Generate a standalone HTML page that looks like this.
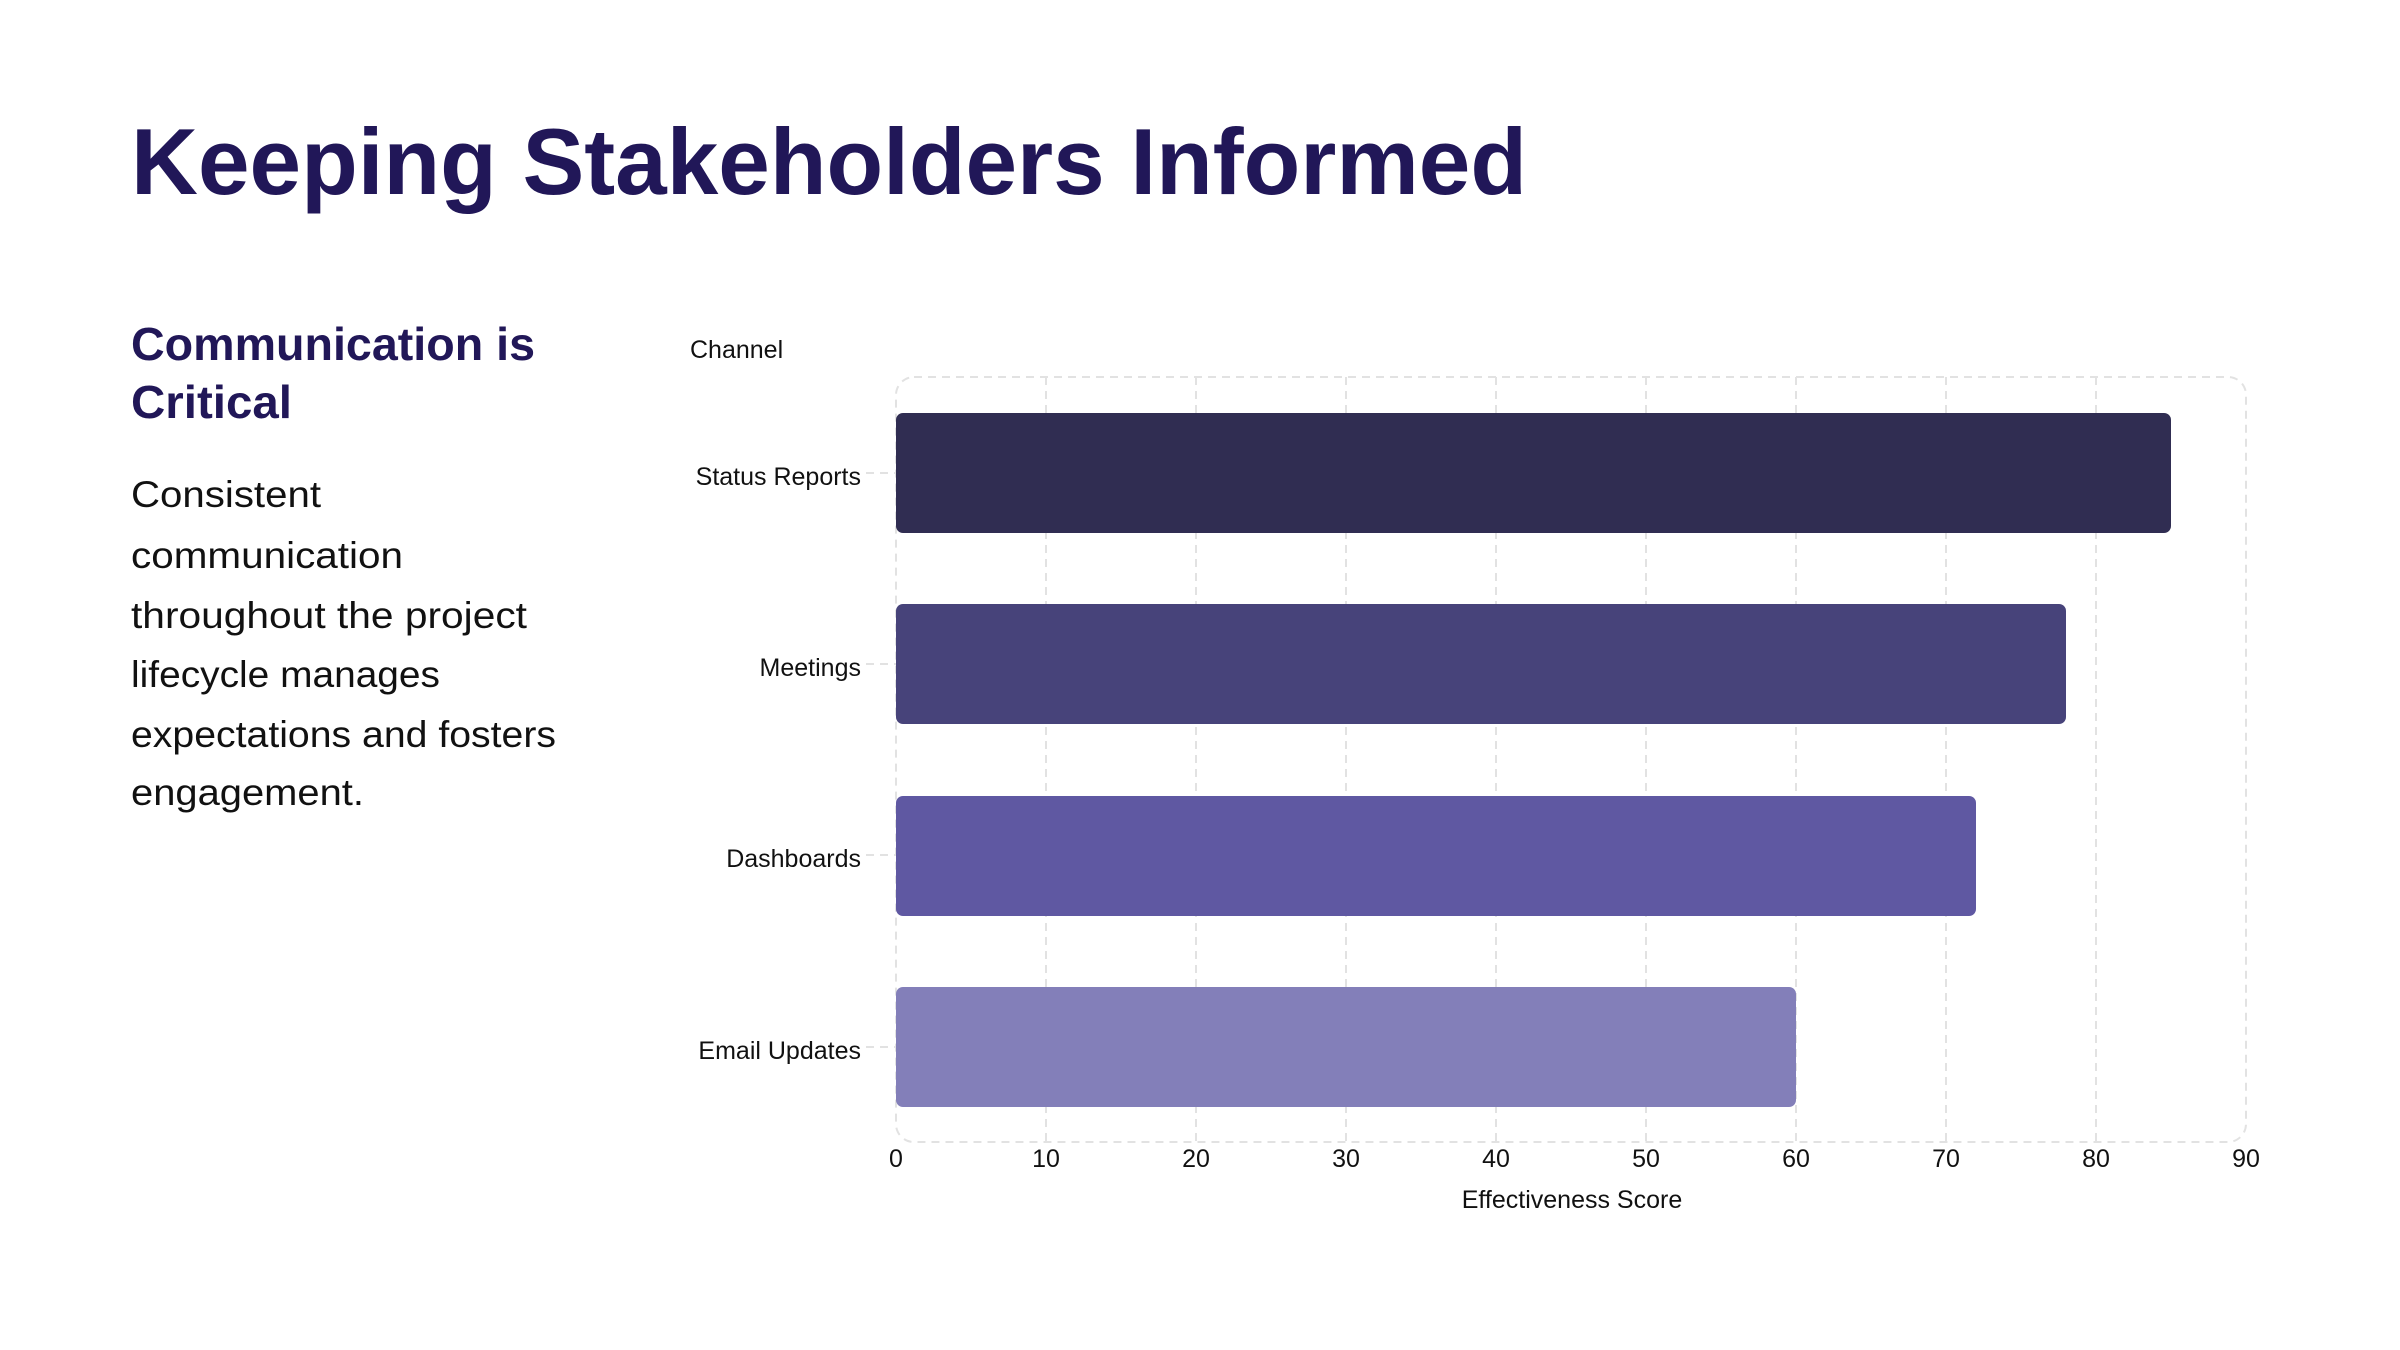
<!DOCTYPE html>
<html><head><meta charset="utf-8"><style>
html,body{margin:0;padding:0;background:#fff;}
svg{display:block;}
text{font-family:"Liberation Sans",sans-serif;}
</style></head><body>
<svg width="2400" height="1350" viewBox="0 0 2400 1350" xmlns="http://www.w3.org/2000/svg">
<rect width="2400" height="1350" fill="#fff"/>
<text x="131" y="194" font-size="94" font-weight="bold" fill="#211758" textLength="1396" lengthAdjust="spacingAndGlyphs">Keeping Stakeholders Informed</text>
<g font-weight="bold" font-size="46" fill="#211758">
<text x="131" y="360" textLength="404" lengthAdjust="spacingAndGlyphs">Communication is</text>
<text x="131" y="418" textLength="161" lengthAdjust="spacingAndGlyphs">Critical</text>
</g>
<g font-size="37" fill="#111">
<text x="131" y="507" textLength="190" lengthAdjust="spacingAndGlyphs">Consistent</text>
<text x="131" y="568" textLength="272" lengthAdjust="spacingAndGlyphs">communication</text>
<text x="131" y="628" textLength="396" lengthAdjust="spacingAndGlyphs">throughout the project</text>
<text x="131" y="687" textLength="309" lengthAdjust="spacingAndGlyphs">lifecycle manages</text>
<text x="131" y="747" textLength="425" lengthAdjust="spacingAndGlyphs">expectations and fosters</text>
<text x="131" y="805" textLength="233" lengthAdjust="spacingAndGlyphs">engagement.</text>
</g>
<g stroke="#e2e2e2" stroke-width="2" stroke-dasharray="8,6" fill="none">
<rect x="896" y="377" width="1350" height="765" rx="18"/>
<line x1="1046" y1="377" x2="1046" y2="1142"/>
<line x1="1196" y1="377" x2="1196" y2="1142"/>
<line x1="1346" y1="377" x2="1346" y2="1142"/>
<line x1="1496" y1="377" x2="1496" y2="1142"/>
<line x1="1646" y1="377" x2="1646" y2="1142"/>
<line x1="1796" y1="377" x2="1796" y2="1142"/>
<line x1="1946" y1="377" x2="1946" y2="1142"/>
<line x1="2096" y1="377" x2="2096" y2="1142"/>
<line x1="866" y1="473" x2="896" y2="473"/>
<line x1="866" y1="664" x2="896" y2="664"/>
<line x1="866" y1="855" x2="896" y2="855"/>
<line x1="866" y1="1047" x2="896" y2="1047"/>
</g>
<rect x="896" y="413" width="1275" height="120" rx="7" fill="#302d52"/>
<rect x="896" y="604" width="1170" height="120" rx="7" fill="#47437a"/>
<rect x="896" y="796" width="1080" height="120" rx="7" fill="#5f58a2"/>
<rect x="896" y="987" width="900" height="120" rx="7" fill="#837fb9"/>
<g font-size="25" fill="#111">
<text x="690" y="358">Channel</text>
<g text-anchor="end">
<text x="861" y="485">Status Reports</text>
<text x="861" y="676">Meetings</text>
<text x="861" y="867">Dashboards</text>
<text x="861" y="1059">Email Updates</text>
</g>
<g text-anchor="middle">
<text x="896" y="1167">0</text>
<text x="1046" y="1167">10</text>
<text x="1196" y="1167">20</text>
<text x="1346" y="1167">30</text>
<text x="1496" y="1167">40</text>
<text x="1646" y="1167">50</text>
<text x="1796" y="1167">60</text>
<text x="1946" y="1167">70</text>
<text x="2096" y="1167">80</text>
<text x="2246" y="1167">90</text>
<text x="1572" y="1208">Effectiveness Score</text>
</g>
</g>
</svg>
</body></html>
